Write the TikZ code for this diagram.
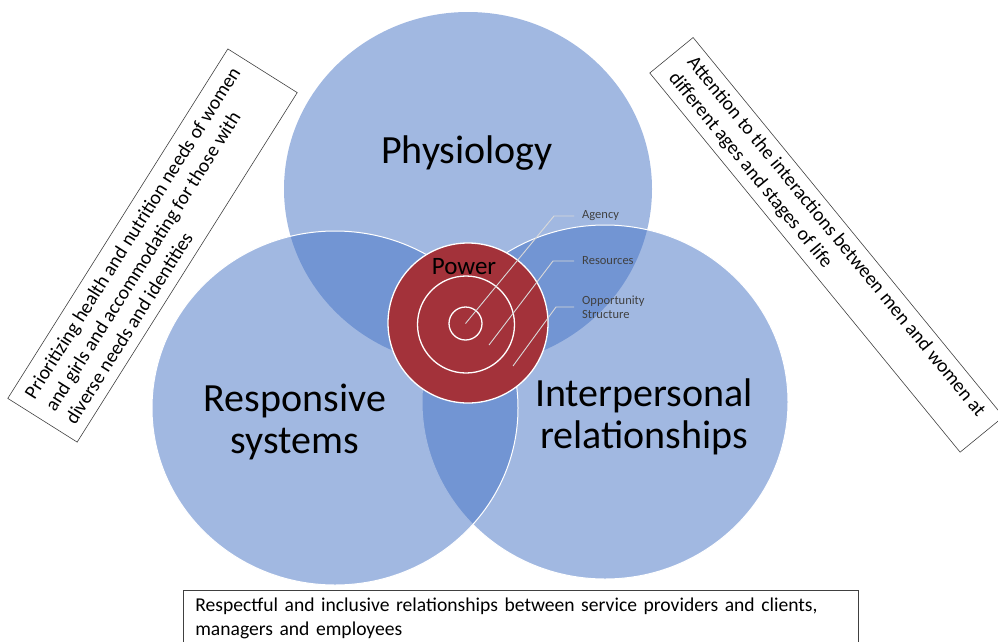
\documentclass[tikz,border=0pt]{standalone}
\usepackage{fontspec}
\setmainfont{Carlito}
\usetikzlibrary{shapes.geometric}
\definecolor{vennblue}{HTML}{4472C4}
\definecolor{powerred}{HTML}{A3323A}
\definecolor{leadgray}{HTML}{D9D9D9}
\definecolor{tagtext}{HTML}{404040}
\tikzset{
  venn/.style={ellipse,inner sep=0pt,minimum width=366,minimum height=354,fill=vennblue,fill opacity=.5},
  rim/.style={draw=white,line width=1pt},
  ring/.style={circle,inner sep=0pt,draw=white,line width=1.3pt},
  lead/.style={draw=leadgray,line width=.9pt},
  tag/.style={anchor=west,inner xsep=8pt,inner ysep=1pt,align=left,text=tagtext,font=\fontsize{12.5}{14}\selectfont},
  big/.style={align=center,font=\fontsize{40}{42}\selectfont},
  note/.style={draw=black!75,line width=.6pt,align=left,inner xsep=6pt,inner ysep=4pt,font=\fontsize{19.6}{24}\selectfont}
}
\begin{document}
\begin{tikzpicture}[x=1pt,y=-1pt]
\useasboundingbox (0,0) rectangle (998,641);
% the three overlapping domains
\node[venn,minimum width=368] (physio) at (468,189) {};
\node[venn,rim] (inter) at (605,402) {};
\node[venn,rim] (resp) at (335,408) {};
% power target in the middle
\node[ring,fill=powerred,minimum size=160] (power) at (468,323) {};
\node[ring,minimum size=97] (resring) at (466,324.5) {};
\node[ring,minimum size=33] (agring) at (465.5,323.5) {};
\node[anchor=base,font=\fontsize{25}{30}\selectfont] (power-lbl) at (464,274) {Power};
% leaders to the three layers
\node[tag] (agency) at (574,216) {Agency};
\node[tag] (resources) at (574,261) {Resources};
\node[tag] (opportunity) at (574,307) {Opportunity\\Structure};
\coordinate (res-in) at (489,345);
\coordinate (opp-in) at (513,366);
\draw[lead] (agring.center) -- (554,216) -- (agency.west);
\draw[lead] (res-in) -- (553,261) -- (resources.west);
\draw[lead] (opp-in) -- (556,307) -- (opportunity.west);
% domain names
\node[big,anchor=base] (physio-lbl) at (467,163) {Physiology};
\node[big] (resp-lbl) at (295,422) {Responsive\\systems};
\node[big] (inter-lbl) at (644,417) {Interpersonal\\relationships};
% side notes
\node[note,rotate=57.8,minimum width=413,minimum height=82] (health) at (152.5,245.5)
  {Prioritizing health and nutrition needs of women\\and girls and accommodating for those with\\diverse needs and identities};
\node[note,rotate=-50.7,minimum width=490,minimum height=56] (ages) at (826.6,244.85)
  {Attention to the interactions between men and women at\\different ages and stages of life};
\node[note,anchor=north west,text width=651,inner xsep=12pt,inner ysep=8pt] (respect) at (183,590)
  {Respectful and inclusive relationships between service providers and clients,\\managers and employees};
\end{tikzpicture}
\end{document}
